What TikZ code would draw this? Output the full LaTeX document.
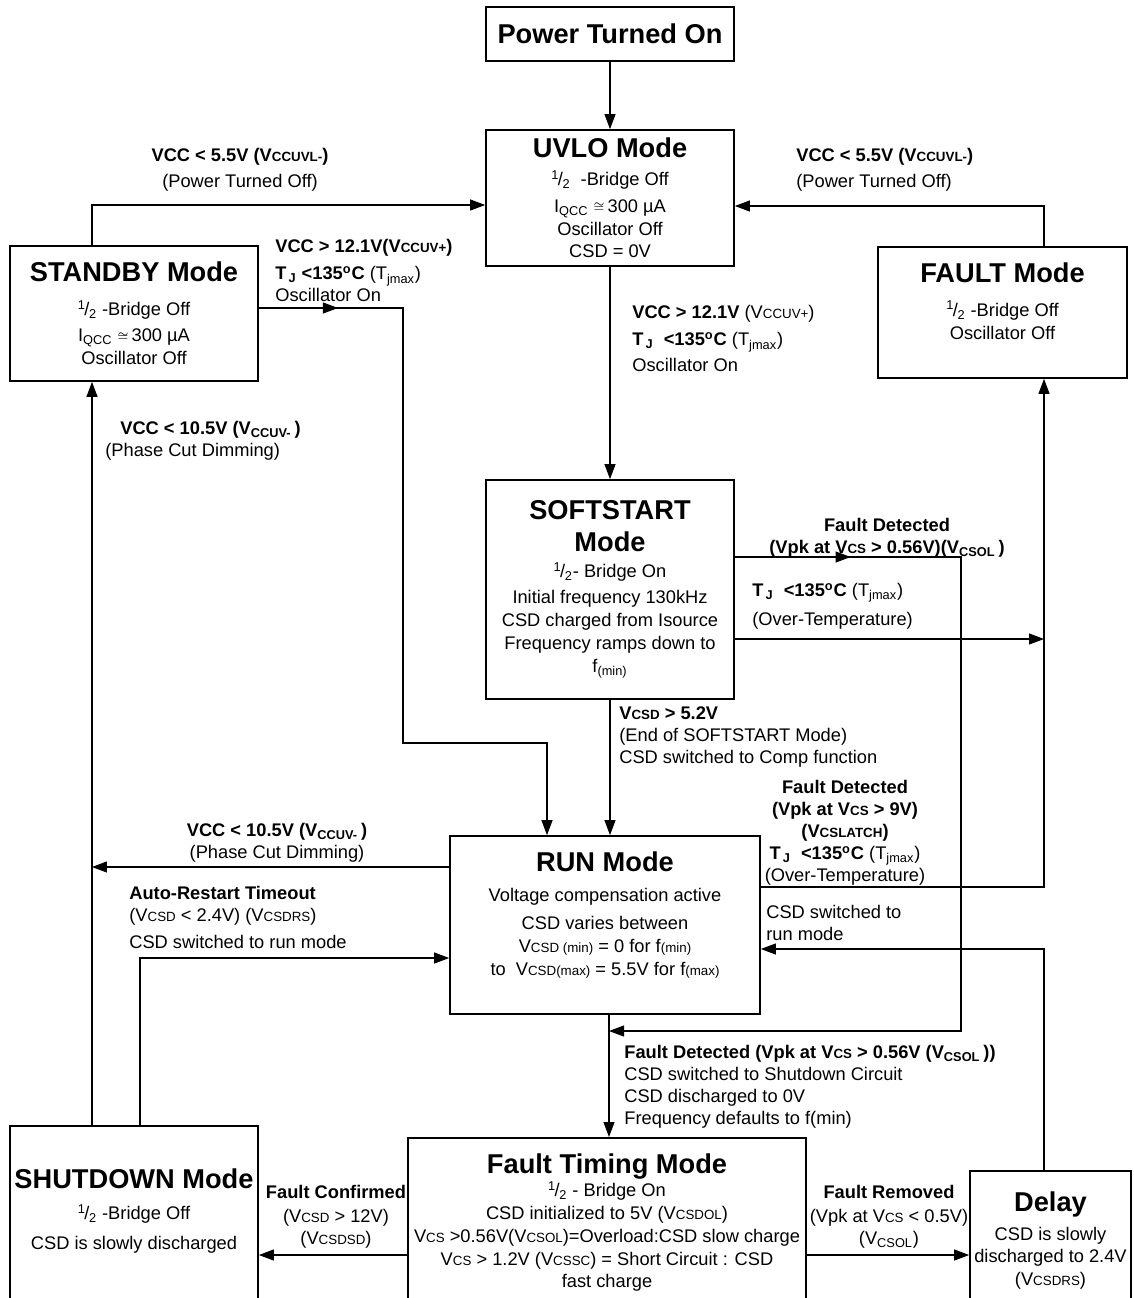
\documentclass[tikz,border=0pt]{standalone}
\usepackage{fontspec}
\setmainfont{Liberation Sans}
\usepackage{tikz}
\usetikzlibrary{arrows.meta, decorations.markings}
\newcommand{\ttl}[1]{{\fontsize{15.5}{18}\selectfont\bfseries #1}}
\newcommand{\sm}[1]{{\fontsize{7.6}{9}\selectfont #1}}
\newcommand{\half}{\textsuperscript{1}\kern-0.08em/\kern-0.02em\textsubscript{2}}
\newcommand{\tj}{T\textsubscript{\,J}}
\newcommand{\degc}{\textsuperscript{o}C}
\newcommand{\apx}{\ \raisebox{1pt}{$\scriptstyle\cong$}\,}
\tikzset{
  sm-box/.style={
    rectangle, draw, line width=1pt, inner sep=0pt, align=center,
    font=\fontsize{10.4}{13}\selectfont
  },
  sm-lbl/.style={inner sep=0pt, font=\fontsize{10.4}{12.5}\selectfont},
  sm-flow/.style={-{Triangle[length=3mm,width=2.2mm]}, line width=0.6pt},
  sm-midtip/.style={postaction={decorate, decoration={markings,
    mark=at position #1 with {\arrow{Triangle[length=3mm,width=2.2mm]}}}}},
}

\begin{document}
\begin{tikzpicture}[x=0.02cm, y=-0.02cm]
  \useasboundingbox (0,0) rectangle (1133,1298);

  \node[sm-box, minimum width=4.96cm, minimum height=1.08cm] (pwr) at (610,34) {\ttl{Power Turned On}};
  \node[sm-box, minimum width=4.96cm, minimum height=2.72cm] (uvlo) at (610,198)
    {\ttl{UVLO Mode}\\[3pt]\half\ \ -Bridge Off\\[2pt]I\textsubscript{QCC}\apx300 µA\\Oscillator Off\\CSD = 0V};
  \node[sm-box, minimum width=4.96cm, minimum height=2.70cm] (stby) at (134,313.5)
    {\ttl{STANDBY Mode}\\[6pt]\half\ -Bridge Off\\[2pt]I\textsubscript{QCC}\apx300 µA\\Oscillator Off};
  \node[sm-box, minimum width=4.98cm, minimum height=2.62cm] (fault) at (1002.5,312.5)
    {\ttl{FAULT Mode}\\[6pt]\half\ -Bridge Off\\Oscillator Off\\ \mbox{}};
  \node[sm-box, minimum width=4.96cm, minimum height=4.38cm] (soft) at (610,589.5)
    {\ttl{SOFTSTART}\\[5pt]\ttl{Mode}\\[2pt]\half- Bridge On\\[2pt]Initial frequency 130kHz\\CSD charged from Isource\\Frequency ramps down to\\f\textsubscript{(min)}};
  \node[sm-box, minimum width=6.2cm, minimum height=3.56cm] (run) at (605,925)
    {\ttl{RUN Mode}\\[4pt]Voltage compensation active\\[3pt]CSD varies between\\V\sm{CSD (min)} = 0 for f\sm{(min)}\\to\ \ V\sm{CSD(max)} = 5.5V for f\sm{(max)}\\ \mbox{}};
  \node[sm-box, minimum width=4.96cm, minimum height=3.64cm, anchor=north] (shut) at (134,1125)
    {\ttl{SHUTDOWN Mode}\\[5pt]\half\ -Bridge Off\\[4pt]CSD is slowly discharged\\[-4pt]\mbox{}};
  \node[sm-box, minimum width=7.96cm, minimum height=3.4cm, anchor=north] (ftim) at (607,1137)
    {\ttl{Fault Timing Mode}\\\half\ - Bridge On\\CSD initialized to 5V (V\sm{CSDOL})\\V\sm{CS} >0.56V(V\sm{CSOL})=Overload:CSD slow charge\\V\sm{CS} > 1.2V (V\sm{CSSC}) = Short Circuit : CSD\\fast charge};
  \node[sm-box, minimum width=3.22cm, minimum height=2.8cm, anchor=north] (dly) at (1050.5,1170)
    {\ttl{Delay}\\[3pt]CSD is slowly\\discharged to 2.4V\\(V\sm{CSDRS})};

  \node[sm-lbl, align=center, anchor=north] (offL) at (240,148)
    {\textbf{VCC < 5.5V (V\sm{CCUVL-})}\\[2pt](Power Turned Off)};
  \node[sm-lbl, align=left, anchor=north west] (offR) at (796,148)
    {\textbf{VCC < 5.5V (V\sm{CCUVL-})}\\[2pt](Power Turned Off)};
  \node[sm-lbl, align=left, anchor=north west] (upS) at (275,239)
    {\textbf{VCC > 12.1V(V\sm{CCUV+})}\\[3pt]\textbf{\tj\ <135\degc} (T\textsubscript{jmax})\\Oscillator On};
  \node[sm-lbl, align=left, anchor=north west] (upU) at (632,305)
    {\textbf{VCC > 12.1V} (V\sm{CCUV+})\\[3pt]\textbf{\tj\ \ <135\degc} (T\textsubscript{jmax})\\[2pt]Oscillator On};
  \node[sm-lbl, align=left, anchor=north west] (dimS) at (105,421)
    {\hspace*{0.3cm}\textbf{VCC < 10.5V (V\textsubscript{CCUV-}\,)}\\(Phase Cut Dimming)};
  \node[sm-lbl, align=center, anchor=north] (fdS) at (887,518)
    {\textbf{Fault Detected}\\\textbf{(Vpk at V\sm{CS} > 0.56V)(V\textsubscript{CSOL}\,)}};
  \node[sm-lbl, align=left, anchor=north west] (otS) at (752,583)
    {\textbf{\tj\ \ <135\degc} (T\textsubscript{jmax})\\[4pt](Over-Temperature)};
  \node[sm-lbl, align=left, anchor=north west] (endS) at (619,706)
    {\textbf{V\sm{CSD} > 5.2V}\\(End of SOFTSTART Mode)\\CSD switched to Comp function};
  \node[sm-lbl, align=center, anchor=north] (fdR) at (845,780)
    {\textbf{Fault Detected}\\\textbf{(Vpk at V\sm{CS} > 9V)}\\\textbf{(V\sm{CSLATCH})}\\\textbf{\tj\ \ <135\degc} (T\textsubscript{jmax})\\(Over-Temperature)};
  \node[sm-lbl, align=center, anchor=north] (dimR) at (277,823)
    {\textbf{VCC < 10.5V (V\textsubscript{CCUV-}\,)}\\(Phase Cut Dimming)};
  \node[sm-lbl, align=left, anchor=north west] (restart) at (129,886)
    {\textbf{Auto-Restart Timeout}\\(V\sm{CSD} < 2.4V) (V\sm{CSDRS})\\[3pt]CSD switched to run mode};
  \node[sm-lbl, align=left, anchor=north west] (back) at (766,905)
    {CSD switched to\\run mode};
  \node[sm-lbl, align=left, anchor=north west] (fdF) at (624,1045)
    {\textbf{Fault Detected (Vpk at V\sm{CS} > 0.56V (V\textsubscript{CSOL}\,))}\\CSD switched to Shutdown Circuit\\CSD discharged to 0V\\Frequency defaults to f(min)};
  \node[sm-lbl, align=center, anchor=north] (conf) at (336,1185)
    {\textbf{Fault Confirmed}\\[1pt](V\sm{CSD} > 12V)\\(V\sm{CSDSD})};
  \node[sm-lbl, align=center, anchor=north] (remv) at (889,1185)
    {\textbf{Fault Removed}\\[1pt](Vpk at V\sm{CS} < 0.5V)\\(V\textsubscript{CSOL})};

  \coordinate (jL) at (92,205);
  \coordinate (jR) at (1044,206);
  \coordinate (sr1) at (403,308);
  \coordinate (sr2) at (547,743);
  \coordinate (sf1) at (961,557);
  \coordinate (sf2) at (609,1031);
  \coordinate (fr) at (1044,639);
  \coordinate (rf) at (1044,887);
  \coordinate (dr) at (1044,949);
  \coordinate (rl) at (92,867);
  \coordinate (ar) at (140,958);
  \coordinate (fs) at (0,1255);
  \coordinate (spine) at (609,0);

  \draw[sm-flow] (pwr) -- (uvlo);
  \draw[sm-flow] (uvlo) -- (soft);
  \draw[sm-flow] (soft.south) -- (soft.south |- run.north);
  \draw[sm-flow] (run.south -| spine) -- (ftim.north -| spine);
  \draw[sm-flow] (stby.north -| jL) -- (jL) -- (jL -| uvlo.west);
  \draw[sm-flow] (fault.north -| jR) -- (jR) -- (jR -| uvlo.east);
  \draw[sm-flow, sm-midtip=0.097] (stby.east |- sr1) -- (sr1) |- (sr2) -- (sr2 |- run.north);
  \draw[sm-flow, sm-midtip=0.11] (soft.east |- sf1) -- (sf1) |- (sf2);
  \draw[sm-flow] (soft.east |- fr) -- (fr);
  \draw[sm-flow] (run.east |- rf) -- (rf) -- (rf |- fault.south);
  \draw[sm-flow] (dly.north -| dr) -- (dr) -- (dr -| run.east);
  \draw[sm-flow] (run.west |- rl) -- (rl);
  \draw[sm-flow] (shut.north -| rl) -- (stby.south -| rl);
  \draw[sm-flow] (shut.north -| ar) -- (ar) -- (ar -| run.west);
  \draw[sm-flow] (ftim.west |- fs) -- (shut.east |- fs);
  \draw[sm-flow] (ftim.east |- fs) -- (dly.west |- fs);
\end{tikzpicture}
\end{document}
